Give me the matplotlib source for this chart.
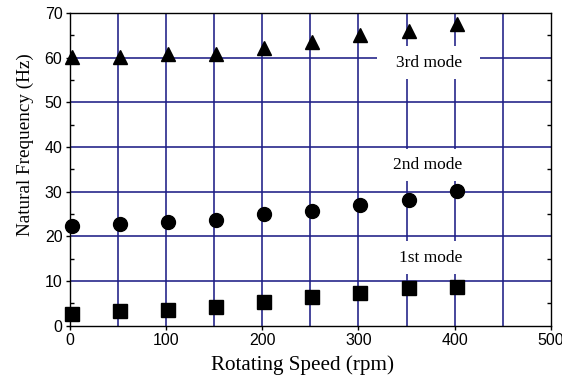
import numpy as np
import matplotlib
matplotlib.use('Agg')
import matplotlib.pyplot as plt
import matplotlib.transforms as mtransforms
from matplotlib.ticker import MultipleLocator

# Rotating speed (rpm) and natural frequencies (Hz)
speed = [2, 52, 102, 152, 202, 252, 302, 352, 402]
mode1 = [2.6, 3.3, 3.5, 4.1, 5.3, 6.4, 7.2, 8.3, 8.6]
mode2 = [22.2, 22.8, 23.2, 23.7, 25.0, 25.7, 27.0, 28.2, 30.2]
mode3 = [60.2, 60.2, 60.9, 60.8, 62.1, 63.6, 65.0, 66.0, 67.6]

mode_labels = ['1st mode', '2nd mode', '3rd mode']
label_x = [375, 372, 373]
label_y = [15.2, 36.0, 58.9]

serif = ['Liberation Serif', 'DejaVu Serif']
sans = ['Liberation Sans', 'DejaVu Sans']
grid_color = '#1e1e86'

fig = plt.figure(figsize=(5.62, 3.76), dpi=100)
ax = fig.add_axes([0.1246, 0.1343, 0.8555, 0.8311])

ax.set_xlim(0, 500)
ax.set_ylim(0, 70)

# grid
ax.xaxis.set_major_locator(MultipleLocator(100))
ax.xaxis.set_minor_locator(MultipleLocator(50))
ax.yaxis.set_major_locator(MultipleLocator(10))
ax.yaxis.set_minor_locator(MultipleLocator(5))
for xv in np.arange(50, 500, 50):
    ax.axvline(xv, color=grid_color, lw=1.15, zorder=1)
for yv in np.arange(10, 70, 10):
    ax.axhline(yv, color=grid_color, lw=1.15, zorder=1)

# data
ax.plot(speed, mode1, 's', color='black', ms=9.5, zorder=4, clip_on=False)
ax.plot(speed, mode2, 'o', color='black', ms=10, zorder=4, clip_on=False)
ax.plot(speed, mode3, '^', color='black', ms=10, zorder=4, clip_on=False)

# mode labels with white background over the grid
for lab, lx, ly in zip(mode_labels, label_x, label_y):
    ax.text(lx, ly, lab, ha='center', va='center', fontsize=12.5, family=serif,
            zorder=3,
            bbox=dict(boxstyle='square,pad=1.05', fc='white', ec='none',
                      mutation_aspect=0.45))

# ticks
ax.tick_params(axis='both', which='major', direction='out', length=3, width=1,
               labelsize=11.5, pad=2.5)
ax.tick_params(axis='y', which='minor', direction='in', length=3, width=1,
               left=True, right=True)
ax.tick_params(axis='x', which='minor', length=0)
for lbl in ax.get_xticklabels() + ax.get_yticklabels():
    lbl.set_family(sans)

# nudge the zero labels like the original
fig.canvas.draw()
xl0 = ax.get_xticklabels()[0]
xl0.set_transform(xl0.get_transform() +
                  mtransforms.ScaledTranslation(8 / 100, 0, fig.dpi_scale_trans))
yl0 = ax.get_yticklabels()[0]
yl0.set_transform(yl0.get_transform() +
                  mtransforms.ScaledTranslation(0, 6 / 100, fig.dpi_scale_trans))

for sp in ax.spines.values():
    sp.set_linewidth(1.0)
    sp.set_color('black')

ax.set_xlabel('Rotating Speed (rpm)', fontsize=15.2, family=serif)
ax.set_ylabel('Natural Frequency (Hz)', fontsize=13.8, family=serif)
ax.xaxis.set_label_coords(0.484, -0.095)
ax.yaxis.set_label_coords(-0.075, 0.578)

plt.savefig('out.png', dpi=100)
plt.close()
